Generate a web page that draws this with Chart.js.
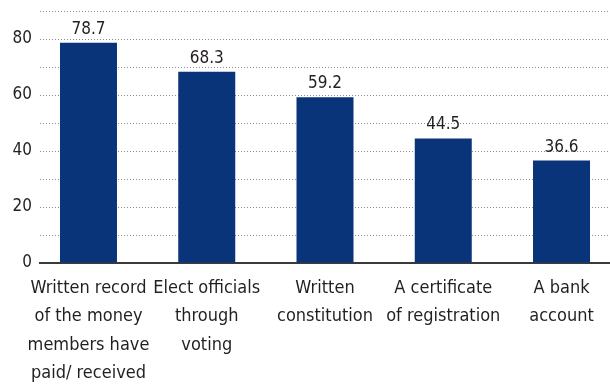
<!DOCTYPE html>
<html>
<head>
<meta charset="utf-8">
<script src="https://cdn.jsdelivr.net/npm/chart.js@4/dist/chart.umd.min.js"></script>
<style>
  html, body { margin: 0; padding: 0; background: #fff; overflow: hidden; }
  #wrap { width: 610px; height: 386px; }
</style>
</head>
<body>
<div id="wrap"><canvas id="chart"></canvas></div>
<script>
// chart data
var categories = [
  ["Written record", "of the money", "members have", "paid/ received"],
  ["Elect officials", "through", "voting"],
  ["Written", "constitution"],
  ["A certificate", "of registration"],
  ["A bank", "account"]
];
var values = [78.7, 68.3, 59.2, 44.5, 36.6];
var yTickLabels = [0, 20, 40, 60, 80];

var FONT = "'Liberation Sans Narrow', 'DejaVu Sans Condensed', sans-serif";
var BAR = "#0a3479";
var TEXT = "#231f20";

// value labels above the bars
var barLabels = {
  id: "barLabels",
  afterDatasetsDraw: function(chart) {
    var ctx = chart.ctx;
    var meta = chart.getDatasetMeta(0);
    ctx.save();
    ctx.font = "17px " + FONT;
    ctx.fillStyle = TEXT;
    ctx.textAlign = "center";
    ctx.textBaseline = "alphabetic";
    meta.data.forEach(function(bar, i) {
      ctx.fillText(values[i].toFixed(1), bar.x, bar.y - 9);
    });
    ctx.restore();
  }
};

var ctx = document.getElementById("chart");
var myChart = new Chart(ctx, {
  type: "bar",
  data: {
    datasets: [{
      data: values.map(function(v, i) { return { x: i, y: v }; }),
      backgroundColor: BAR,
      borderWidth: 0,
      barPercentage: 0.482,
      categoryPercentage: 1
    }]
  },
  options: {
    responsive: true,
    maintainAspectRatio: false,
    animation: false,
    layout: { padding: { top: 11, right: 0, left: 0, bottom: 0 } },
    plugins: {
      legend: { display: false },
      tooltip: { enabled: false }
    },
    scales: {
      x: {
        type: "linear",
        offset: false,
        min: -0.41,
        max: 4.41,
        grid: { display: false, drawTicks: false },
        border: { display: true, color: "#3a3a3a", width: 2 },
        ticks: {
          stepSize: 1,
          includeBounds: false,
          autoSkip: false,
          maxRotation: 0,
          padding: 11,
          color: TEXT,
          font: { family: FONT, size: 18, lineHeight: 1.58 },
          callback: function(v) {
            return Number.isInteger(v) && categories[v] ? categories[v] : "";
          }
        },
        afterFit: function(scale) {
          scale.height = 123;
          scale.paddingLeft = 0;
          scale.paddingRight = 0;
        }
      },
      y: {
        min: 0,
        max: 90,
        grid: {
          drawTicks: false,
          color: function(c) { return c.tick.value === 0 ? "rgba(0,0,0,0)" : "#8a8a8a"; },
          lineWidth: 1
        },
        border: { display: false, dash: [1, 2] },
        ticks: {
          stepSize: 10,
          padding: 8,
          color: TEXT,
          font: { family: FONT, size: 17 },
          callback: function(v) { return yTickLabels.indexOf(v) >= 0 ? v : ""; }
        },
        afterFit: function(scale) {
          scale.width = 40;
          scale.paddingTop = 0;
          scale.paddingBottom = 0;
        }
      }
    }
  },
  plugins: [barLabels]
});
</script>
</body>
</html>
